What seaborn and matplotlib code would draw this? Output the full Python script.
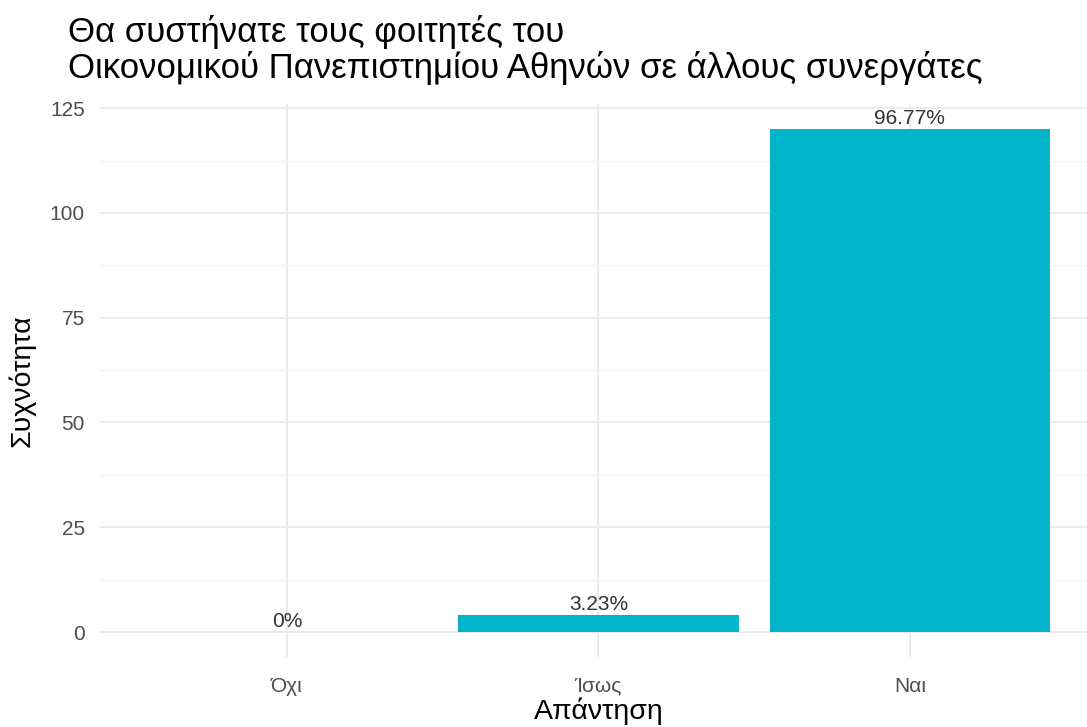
import seaborn as sns
import matplotlib.pyplot as plt
import pandas as pd
import numpy as np
from matplotlib.ticker import MultipleLocator

categories = ['Όχι', 'Ίσως', 'Ναι']
counts = [0, 4, 120]
pct_labels = ['0%', '3.23%', '96.77%']

df = pd.DataFrame({'answer': categories, 'count': counts, 'label': pct_labels})

sns.set_style('white')
plt.rcParams['font.family'] = ['Liberation Sans', 'DejaVu Sans']

fig = plt.figure(figsize=(10.87, 7.27), dpi=100)
ax = fig.add_axes([0.092, 0.096, 0.917, 0.761])

sns.barplot(data=df, x='answer', y='count', order=categories, color='#01B3CB',
            width=0.9, saturation=1, linewidth=0, ax=ax, zorder=3)

for i, row in df.iterrows():
    ax.text(i, row['count'] + 0.2, row['label'], ha='center', va='bottom',
            fontsize=15, color='#333333', zorder=4)

ax.set_xlim(-0.6, 2.6)
ax.set_ylim(-6, 126)
ax.yaxis.set_major_locator(MultipleLocator(25))
ax.yaxis.set_minor_locator(MultipleLocator(12.5))
ax.grid(which='major', color='#EBEBEB', linewidth=1.4, zorder=0)
ax.grid(which='minor', axis='y', color='#F2F2F2', linewidth=0.9, zorder=0)
ax.set_axisbelow(True)
for s in ax.spines.values():
    s.set_visible(False)
ax.tick_params(axis='both', length=0, labelsize=15, labelcolor='#4D4D4D')
ax.tick_params(axis='y', pad=11)
ax.tick_params(axis='x', pad=14)

ax.set_xlabel('Απάντηση', fontsize=20.5, color='black', labelpad=1)
ax.set_ylabel('Συχνότητα', fontsize=20.5, color='black', labelpad=10)

fig.text(0.0625, 0.98, 'Θα συστήνατε τους φοιτητές του\nΟικονομικού Πανεπιστημίου Αθηνών σε άλλους συνεργάτες',
         ha='left', va='top', fontsize=25, linespacing=1.08, color='black')

fig.savefig('out.png', dpi=100)
